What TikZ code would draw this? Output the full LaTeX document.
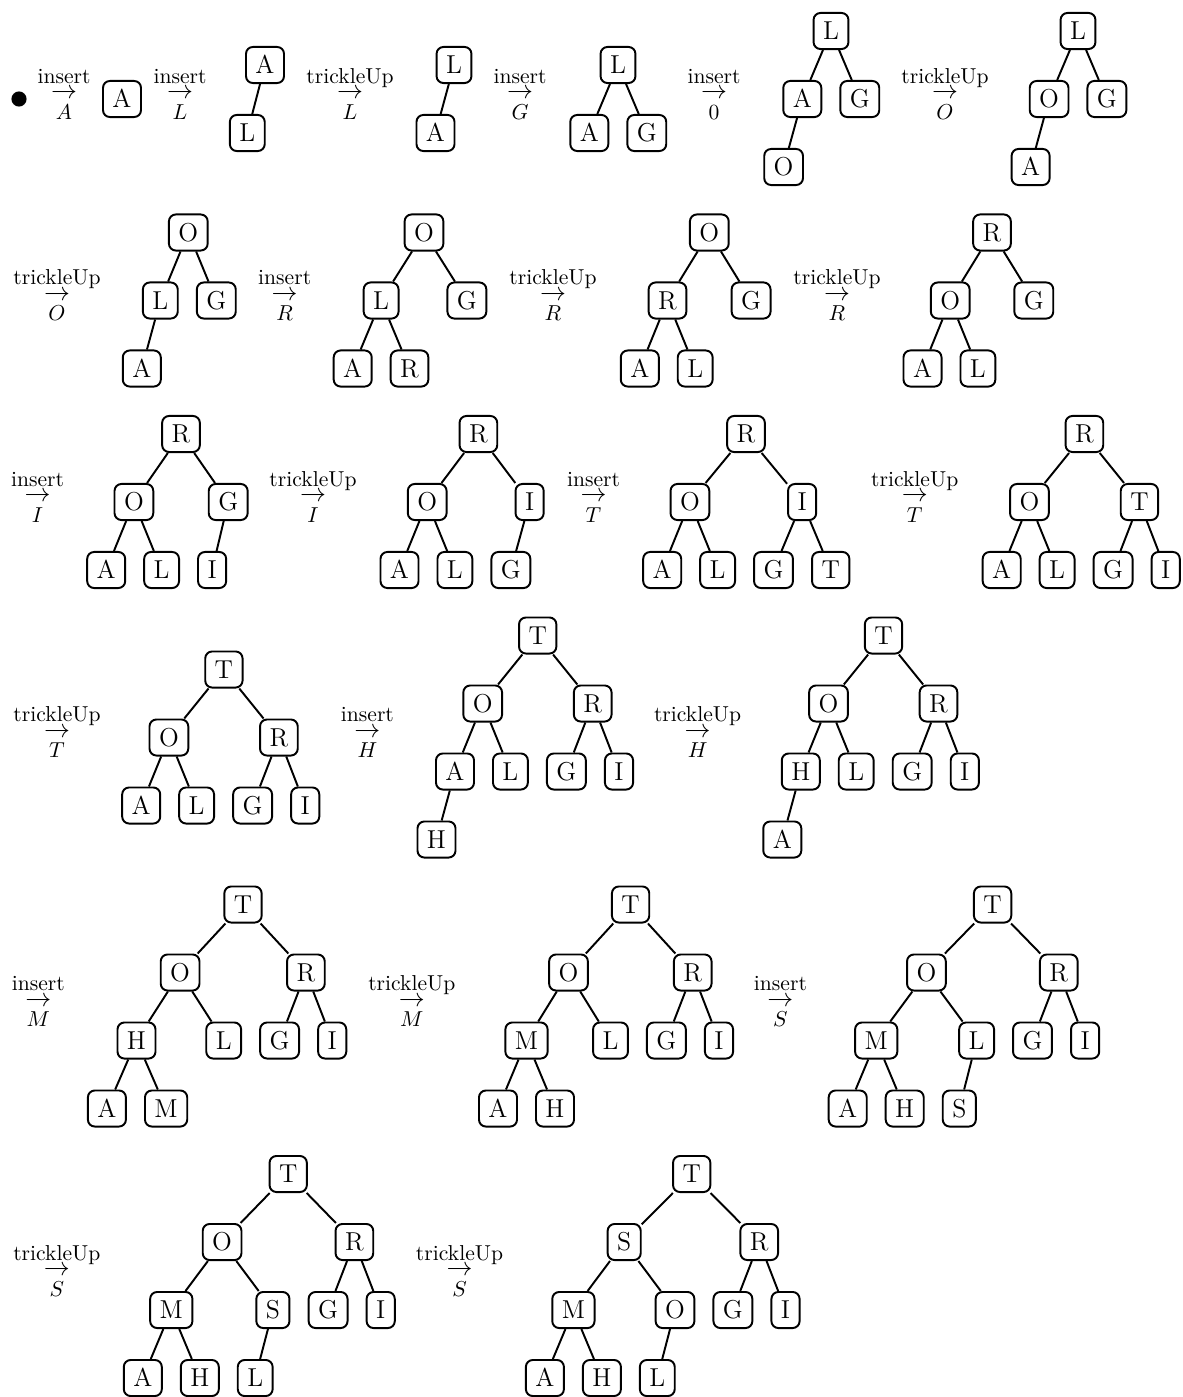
\documentclass[tikz,border=0pt]{standalone}
\usepackage{tikz}
\newcommand{\trans}[2]{\vbox{\offinterlineskip\halign{\hfil##\hfil\cr
  \rule[-2pt]{0pt}{9pt}#1\cr
  \rule{0pt}{5.2pt}{\fontsize{12}{12}\selectfont$\rightarrow$}\cr
  \rule{0pt}{9.4pt}$#2$\cr}}}
\begin{document}
\begin{tikzpicture}[x=0.463pt,y=-0.463pt,
  heap/.style={draw,line width=0.9pt,rounded corners=3.2pt,inner xsep=4.4pt,inner ysep=4.25pt,
    text height=8.2pt,text depth=0pt,font=\fontsize{12}{14}\selectfont},
  link/.style={line width=0.9pt},
  move/.style={inner sep=0pt,anchor=base,font=\fontsize{10}{12}\selectfont}]
  \useasboundingbox (0,0) rectangle (1182,1397);
  % row 1
  \node[circle,fill,inner sep=0pt,minimum size=7pt] (start) at (19,99) {};
  \node[move] (s1) at (64,119) {\trans{insert}{A}};
  \node[heap] (t0A) at (122,99) {A};
  \node[move] (s2) at (180,119) {\trans{insert}{L}};
  \node[heap] (t1A) at (265,65) {A};
  \node[heap] (t1L) at (247.3,133) {L};
  \node[move] (s3) at (350,119) {\trans{trickleUp}{L}};
  \node[heap] (t2L) at (454,65) {L};
  \node[heap] (t2A) at (435.5,133) {A};
  \node[move] (s4) at (520,119) {\trans{insert}{G}};
  \node[heap] (t3L) at (618,65) {L};
  \node[heap] (t3A) at (589.3,133) {A};
  \node[heap] (t3G) at (646.8,133) {G};
  \node[move] (s5) at (714,119) {\trans{insert}{0}};
  \node[heap] (t4L) at (831,31) {L};
  \node[heap] (t4A) at (802.3,99) {A};
  \node[heap] (t4G) at (859.8,99) {G};
  \node[heap] (t4O) at (783.6,167) {O};
  \node[move] (s6) at (945,119) {\trans{trickleUp}{O}};
  \node[heap] (t5L) at (1078,31) {L};
  \node[heap] (t5O) at (1049.1,99) {O};
  \node[heap] (t5G) at (1106.9,99) {G};
  \node[heap] (t5A) at (1030.6,167) {A};
  % row 2
  \node[move] (s7) at (57,320.5) {\trans{trickleUp}{O}};
  \node[heap] (t6O) at (188.3,232.5) {O};
  \node[heap] (t6L) at (160.3,300.5) {L};
  \node[heap] (t6G) at (216.3,300.5) {G};
  \node[heap] (t6A) at (141.8,368.5) {A};
  \node[move] (s8) at (284.7,320.5) {\trans{insert}{R}};
  \node[heap] (t7O) at (424,232.5) {O};
  \node[heap] (t7L) at (381.1,300.5) {L};
  \node[heap] (t7G) at (466.9,300.5) {G};
  \node[heap] (t7A) at (352.7,368.5) {A};
  \node[heap] (t7R) at (409.5,368.5) {R};
  \node[move] (s9) at (553,320.5) {\trans{trickleUp}{R}};
  \node[heap] (t8O) at (709.3,232.5) {O};
  \node[heap] (t8R) at (667.5,300.5) {R};
  \node[heap] (t8G) at (751.1,300.5) {G};
  \node[heap] (t8A) at (639.8,368.5) {A};
  \node[heap] (t8L) at (695.2,368.5) {L};
  \node[move] (s10) at (837,320.5) {\trans{trickleUp}{R}};
  \node[heap] (t9R) at (992,232.5) {R};
  \node[heap] (t9O) at (950.2,300.5) {O};
  \node[heap] (t9G) at (1033.8,300.5) {G};
  \node[heap] (t9A) at (922.5,368.5) {A};
  \node[heap] (t9L) at (977.9,368.5) {L};
  % row 3
  \node[move] (s11) at (37.5,522) {\trans{insert}{I}};
  \node[heap] (t10R) at (181,434) {R};
  \node[heap] (t10O) at (133.9,502) {O};
  \node[heap] (t10G) at (228.2,502) {G};
  \node[heap] (t10A) at (106.2,570) {A};
  \node[heap] (t10L) at (161.6,570) {L};
  \node[heap] (t10I) at (212.1,570) {I};
  \node[move] (s12) at (313,522) {\trans{trickleUp}{I}};
  \node[heap] (t11R) at (478.4,434) {R};
  \node[heap] (t11O) at (427.2,502) {O};
  \node[heap] (t11I) at (529.6,502) {I};
  \node[heap] (t11A) at (399.5,570) {A};
  \node[heap] (t11L) at (454.9,570) {L};
  \node[heap] (t11G) at (510.9,570) {G};
  \node[move] (s13) at (593.5,522) {\trans{insert}{T}};
  \node[heap] (t12R) at (746,434) {R};
  \node[heap] (t12O) at (689.9,502) {O};
  \node[heap] (t12I) at (802.1,502) {I};
  \node[heap] (t12A) at (662.2,570) {A};
  \node[heap] (t12L) at (717.6,570) {L};
  \node[heap] (t12G) at (773.5,570) {G};
  \node[heap] (t12T) at (830.7,570) {T};
  \node[move] (s14) at (914.7,522) {\trans{trickleUp}{T}};
  \node[heap] (t13R) at (1084.4,434) {R};
  \node[heap] (t13O) at (1029.4,502) {O};
  \node[heap] (t13T) at (1139.4,502) {T};
  \node[heap] (t13A) at (1001.7,570) {A};
  \node[heap] (t13L) at (1057.1,570) {L};
  \node[heap] (t13G) at (1113.1,570) {G};
  \node[heap] (t13I) at (1165.7,570) {I};
  % row 4
  \node[move] (s15) at (57,757.5) {\trans{trickleUp}{T}};
  \node[heap] (t14T) at (223.9,669.5) {T};
  \node[heap] (t14O) at (168.9,737.5) {O};
  \node[heap] (t14R) at (278.9,737.5) {R};
  \node[heap] (t14A) at (141.2,805.5) {A};
  \node[heap] (t14L) at (196.6,805.5) {L};
  \node[heap] (t14G) at (252.6,805.5) {G};
  \node[heap] (t14I) at (305.2,805.5) {I};
  \node[move] (s16) at (367.4,757.5) {\trans{insert}{H}};
  \node[heap] (t15T) at (537.7,635.5) {T};
  \node[heap] (t15O) at (482.7,703.5) {O};
  \node[heap] (t15R) at (592.7,703.5) {R};
  \node[heap] (t15A) at (455,771.5) {A};
  \node[heap] (t15L) at (510.4,771.5) {L};
  \node[heap] (t15G) at (566.4,771.5) {G};
  \node[heap] (t15I) at (619,771.5) {I};
  \node[heap] (t15H) at (436.5,839.5) {H};
  \node[move] (s17) at (697.6,757.5) {\trans{trickleUp}{H}};
  \node[heap] (t16T) at (883.5,635.5) {T};
  \node[heap] (t16O) at (828.5,703.5) {O};
  \node[heap] (t16R) at (938.5,703.5) {R};
  \node[heap] (t16H) at (800.8,771.5) {H};
  \node[heap] (t16L) at (856.2,771.5) {L};
  \node[heap] (t16G) at (912.2,771.5) {G};
  \node[heap] (t16I) at (964.8,771.5) {I};
  \node[heap] (t16A) at (782.3,839.5) {A};
  % row 5
  \node[move] (s18) at (38.3,1026.5) {\trans{insert}{M}};
  \node[heap] (t17T) at (243,904.5) {T};
  \node[heap] (t17O) at (180.1,972.5) {O};
  \node[heap] (t17R) at (305.9,972.5) {R};
  \node[heap] (t17H) at (136.5,1040.5) {H};
  \node[heap] (t17L) at (223.7,1040.5) {L};
  \node[heap] (t17G) at (279.6,1040.5) {G};
  \node[heap] (t17I) at (332.2,1040.5) {I};
  \node[heap] (t17A) at (106.9,1108.5) {A};
  \node[heap] (t17M) at (166.1,1108.5) {M};
  \node[move] (s19) at (411.8,1026.5) {\trans{trickleUp}{M}};
  \node[heap] (t18T) at (630.6,904.5) {T};
  \node[heap] (t18O) at (568.5,972.5) {O};
  \node[heap] (t18R) at (692.7,972.5) {R};
  \node[heap] (t18M) at (526.5,1040.5) {M};
  \node[heap] (t18L) at (610.5,1040.5) {L};
  \node[heap] (t18G) at (666.4,1040.5) {G};
  \node[heap] (t18I) at (719,1040.5) {I};
  \node[heap] (t18A) at (498,1108.5) {A};
  \node[heap] (t18H) at (555,1108.5) {H};
  \node[move] (s20) at (780.4,1026.5) {\trans{insert}{S}};
  \node[heap] (t19T) at (992.6,904.5) {T};
  \node[heap] (t19O) at (926.4,972.5) {O};
  \node[heap] (t19R) at (1058.8,972.5) {R};
  \node[heap] (t19M) at (876.2,1040.5) {M};
  \node[heap] (t19L) at (976.6,1040.5) {L};
  \node[heap] (t19G) at (1032.5,1040.5) {G};
  \node[heap] (t19I) at (1085.1,1040.5) {I};
  \node[heap] (t19A) at (847.7,1108.5) {A};
  \node[heap] (t19H) at (904.7,1108.5) {H};
  \node[heap] (t19S) at (959.3,1108.5) {S};
  % row 6
  \node[move] (s21) at (56.8,1296) {\trans{trickleUp}{S}};
  \node[heap] (t20T) at (288.2,1174) {T};
  \node[heap] (t20O) at (222.1,1242) {O};
  \node[heap] (t20R) at (354.4,1242) {R};
  \node[heap] (t20M) at (171.3,1310) {M};
  \node[heap] (t20S) at (272.9,1310) {S};
  \node[heap] (t20G) at (328.1,1310) {G};
  \node[heap] (t20I) at (380.7,1310) {I};
  \node[heap] (t20A) at (142.8,1378) {A};
  \node[heap] (t20H) at (199.8,1378) {H};
  \node[heap] (t20L) at (255.2,1378) {L};
  \node[move] (s22) at (459.5,1296) {\trans{trickleUp}{S}};
  \node[heap] (t21T) at (691.7,1174) {T};
  \node[heap] (t21S) at (624.2,1242) {S};
  \node[heap] (t21R) at (759.2,1242) {R};
  \node[heap] (t21M) at (573.4,1310) {M};
  \node[heap] (t21O) at (675,1310) {O};
  \node[heap] (t21G) at (732.9,1310) {G};
  \node[heap] (t21I) at (785.5,1310) {I};
  \node[heap] (t21A) at (544.9,1378) {A};
  \node[heap] (t21H) at (601.9,1378) {H};
  \node[heap] (t21L) at (657.3,1378) {L};
  % tree edges
  \foreach \a/\b in {t1A/t1L, t2L/t2A, t3L/t3A, t3L/t3G, t4L/t4A, t4L/t4G, t4A/t4O,
      t5L/t5O, t5L/t5G, t5O/t5A}
    \draw[link] (\a) -- (\b);
  \foreach \a/\b in {t6O/t6L, t6O/t6G, t6L/t6A, t7O/t7L, t7O/t7G, t7L/t7A, t7L/t7R,
      t8O/t8R, t8O/t8G, t8R/t8A, t8R/t8L, t9R/t9O, t9R/t9G, t9O/t9A, t9O/t9L}
    \draw[link] (\a) -- (\b);
  \foreach \a/\b in {t10R/t10O, t10R/t10G, t10O/t10A, t10O/t10L, t10G/t10I,
      t11R/t11O, t11R/t11I, t11O/t11A, t11O/t11L, t11I/t11G,
      t12R/t12O, t12R/t12I, t12O/t12A, t12O/t12L, t12I/t12G, t12I/t12T,
      t13R/t13O, t13R/t13T, t13O/t13A, t13O/t13L, t13T/t13G, t13T/t13I}
    \draw[link] (\a) -- (\b);
  \foreach \a/\b in {t14T/t14O, t14T/t14R, t14O/t14A, t14O/t14L, t14R/t14G, t14R/t14I,
      t15T/t15O, t15T/t15R, t15O/t15A, t15O/t15L, t15R/t15G, t15R/t15I, t15A/t15H,
      t16T/t16O, t16T/t16R, t16O/t16H, t16O/t16L, t16R/t16G, t16R/t16I, t16H/t16A}
    \draw[link] (\a) -- (\b);
  \foreach \a/\b in {t17T/t17O, t17T/t17R, t17O/t17H, t17O/t17L, t17H/t17A, t17H/t17M,
      t17R/t17G, t17R/t17I,
      t18T/t18O, t18T/t18R, t18O/t18M, t18O/t18L, t18M/t18A, t18M/t18H, t18R/t18G, t18R/t18I,
      t19T/t19O, t19T/t19R, t19O/t19M, t19O/t19L, t19M/t19A, t19M/t19H, t19L/t19S,
      t19R/t19G, t19R/t19I}
    \draw[link] (\a) -- (\b);
  \foreach \a/\b in {t20T/t20O, t20T/t20R, t20O/t20M, t20O/t20S, t20M/t20A, t20M/t20H,
      t20S/t20L, t20R/t20G, t20R/t20I,
      t21T/t21S, t21T/t21R, t21S/t21M, t21S/t21O, t21M/t21A, t21M/t21H, t21O/t21L,
      t21R/t21G, t21R/t21I}
    \draw[link] (\a) -- (\b);
\end{tikzpicture}
\end{document}
